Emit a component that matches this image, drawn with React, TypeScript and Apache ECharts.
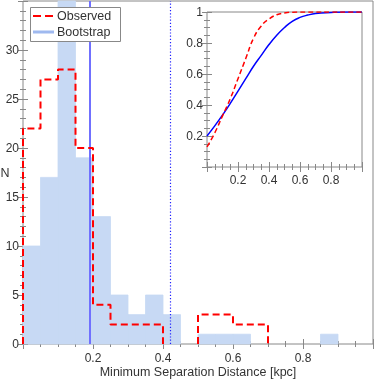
import React, { useEffect, useRef } from "react";
import * as echarts from "echarts";

// ---- Data ----
const binEdges = [0, 0.05, 0.1, 0.15, 0.2, 0.25, 0.3, 0.35, 0.4, 0.45, 0.5, 0.55, 0.6, 0.65, 0.7, 0.75, 0.8, 0.85, 0.9, 0.95, 1.0];
const observedCounts = [22, 27, 28, 20, 4, 2, 2, 2, 0, 0, 3, 3, 2, 2, 0, 0, 0, 0, 0, 0];
const bootstrapCounts = [10, 17, 38, 19, 13, 5, 3, 5, 3, 0, 1, 1, 1, 0, 0, 0, 0, 1, 0, 0];
const bootstrapMarker = 0.194;
const dottedMarker = 0.424;

const cdfX = [0, 0.05, 0.1, 0.15, 0.2, 0.25, 0.3, 0.35, 0.4, 0.45, 0.5, 0.55, 0.6, 0.65, 0.7, 0.8, 0.9, 1.0];
const cdfBootstrap = [0.2, 0.265, 0.335, 0.41, 0.49, 0.57, 0.65, 0.72, 0.79, 0.85, 0.9, 0.94, 0.965, 0.98, 0.99, 0.997, 1.0, 1.0];
const cdfObserved = [0.13, 0.22, 0.33, 0.44, 0.57, 0.7, 0.83, 0.91, 0.955, 0.982, 0.994, 0.999, 1.0, 1.0, 1.0, 1.0, 1.0, 1.0];

const mainXTicks = { min: 0, max: 1, interval: 0.2 };
const mainYTicks = { min: 0, max: 35, interval: 5 };
const insetTicks = { min: 0, max: 1, interval: 0.2 };

const xAxisTitle = "Minimum Separation Distance [kpc]";
const yAxisTitle = "N";
const legendLabels = ["Observed", "Bootstrap"];

const FONT = "Liberation Sans";
const TEXT = "#333";
const FRAME = "#888";
const RED = "#ff0000";
const BAR = "#c7d9f4";

function stepRuns(): number[][][] {
  const runs: number[][][] = [];
  let cur: number[][] | null = null;
  observedCounts.forEach((h, i) => {
    if (h > 0) {
      if (!cur) {
        cur = [[binEdges[i], 0]];
      }
      cur.push([binEdges[i], h], [binEdges[i + 1], h]);
    } else if (cur) {
      cur.push([binEdges[i], 0]);
      runs.push(cur);
      cur = null;
    }
  });
  if (cur) {
    (cur as number[][]).push([binEdges[binEdges.length - 1], 0]);
    runs.push(cur);
  }
  return runs;
}

export default function App() {
  const ref = useRef<HTMLDivElement>(null);
  useEffect(() => {
    if (!ref.current) return;
    const chart = echarts.init(ref.current, undefined, { renderer: "svg" });

    const tickCommon = (labels: boolean, extra: any = {}) => ({
      axisLine: { show: false },
      axisTick: { show: true, inside: true, length: 5, lineStyle: { color: FRAME } },
      minorTick: { show: true, splitNumber: 4, length: 3, lineStyle: { color: FRAME } },
      splitLine: { show: false },
      axisLabel: { show: labels, color: TEXT, fontFamily: FONT, fontSize: 12, ...extra },
    });

    const runs = stepRuns();
    const observedSeries = runs.map((r) => ({
      type: "line",
      xAxisIndex: 0,
      yAxisIndex: 0,
      data: r,
      showSymbol: false,
      symbol: "none",
      lineStyle: { color: RED, width: 2, type: [7, 4] },
      z: 5,
    }));

    const textStyle = (text: string) => ({
      text,
      fill: TEXT,
      font: `12.5px "${FONT}"`,
      textVerticalAlign: "middle",
      verticalAlign: "middle",
    });

    const option: any = {
      animation: false,
      textStyle: { fontFamily: FONT },
      grid: [
        { left: 23, right: 1, top: 1, bottom: 36, show: true, borderColor: FRAME, borderWidth: 1, backgroundColor: "transparent", containLabel: false, outerBoundsMode: "none" },
        { left: 207, right: 12, top: 12, bottom: 213, show: true, borderColor: FRAME, borderWidth: 1, backgroundColor: "#fff", containLabel: false, outerBoundsMode: "none" },
      ],
      xAxis: [
        {
          type: "value", gridIndex: 0, position: "bottom", ...mainXTicks,
          ...tickCommon(true, { showMinLabel: false, showMaxLabel: false, margin: 8 }),
        },
        { type: "value", gridIndex: 0, position: "top", ...mainXTicks, ...tickCommon(false) },
        {
          type: "value", gridIndex: 1, position: "bottom", ...insetTicks,
          ...tickCommon(true, { showMinLabel: false, showMaxLabel: false, margin: 7 }),
        },
        { type: "value", gridIndex: 1, position: "top", ...insetTicks, ...tickCommon(false) },
      ],
      yAxis: [
        {
          type: "value", gridIndex: 0, position: "left", ...mainYTicks,
          ...tickCommon(true, { showMaxLabel: false, margin: 4 }),
          minorTick: { show: true, splitNumber: 5, length: 3, lineStyle: { color: FRAME } },
        },
        {
          type: "value", gridIndex: 0, position: "right", ...mainYTicks, ...tickCommon(false),
          minorTick: { show: true, splitNumber: 5, length: 3, lineStyle: { color: FRAME } },
        },
        {
          type: "value", gridIndex: 1, position: "left", ...insetTicks,
          ...tickCommon(true, { showMinLabel: false, margin: 4 }),
        },
        { type: "value", gridIndex: 1, position: "right", ...insetTicks, ...tickCommon(false) },
      ],
      series: [
        {
          type: "custom",
          xAxisIndex: 0,
          yAxisIndex: 0,
          z: 1,
          encode: { x: [0, 1], y: 2 },
          data: bootstrapCounts
            .map((v, i) => [binEdges[i], binEdges[i + 1], v])
            .filter((d) => d[2] > 0),
          renderItem: (params: any, api: any) => {
            const p0 = api.coord([api.value(0), 0]);
            const p1 = api.coord([api.value(1), api.value(2)]);
            const rect = echarts.graphic.clipRectByRect(
              { x: p0[0], y: p1[1], width: p1[0] - p0[0], height: p0[1] - p1[1] },
              { x: params.coordSys.x, y: params.coordSys.y, width: params.coordSys.width, height: params.coordSys.height }
            );
            return rect ? { type: "rect", shape: rect, style: { fill: BAR, stroke: BAR, lineWidth: 0.8 } } : null;
          },
        },
        {
          type: "line",
          xAxisIndex: 0,
          yAxisIndex: 0,
          data: [],
          z: 3,
          markLine: {
            silent: true,
            symbol: "none",
            label: { show: false },
            data: [
              { xAxis: bootstrapMarker, lineStyle: { color: "#7070ff", width: 2, type: "solid" } },
              { xAxis: dottedMarker, lineStyle: { color: "#2020ff", width: 1.2, type: [1.2, 2] } },
            ],
          },
        },
        ...observedSeries,
        {
          type: "line",
          xAxisIndex: 2,
          yAxisIndex: 2,
          data: cdfX.map((x, i) => [x, cdfBootstrap[i]]),
          smooth: true,
          showSymbol: false,
          symbol: "none",
          lineStyle: { color: "#0000ff", width: 1.5 },
          z: 6,
        },
        {
          type: "line",
          xAxisIndex: 2,
          yAxisIndex: 2,
          data: cdfX.map((x, i) => [x, cdfObserved[i]]),
          smooth: true,
          showSymbol: false,
          symbol: "none",
          lineStyle: { color: RED, width: 1.5, type: [5, 3] },
          z: 7,
        },
      ],
      graphic: [
        { type: "text", x: 198, y: 372, style: { ...textStyle(xAxisTitle), textAlign: "center", align: "center" }, z: 50 },
        { type: "text", x: 5, y: 173, style: { ...textStyle(yAxisTitle), textAlign: "center", align: "center" }, z: 50 },
        {
          type: "group",
          z: 100,
          children: [
            { type: "rect", shape: { x: 30.5, y: 7.5, width: 90, height: 34 }, style: { fill: "#fff", stroke: FRAME, lineWidth: 1 }, z: 100 },
            { type: "line", shape: { x1: 33, y1: 16, x2: 53, y2: 16 }, style: { stroke: RED, lineWidth: 2, lineDash: [8, 4] }, z: 101 },
            { type: "line", shape: { x1: 33, y1: 32, x2: 54, y2: 32 }, style: { stroke: "#9fb9ef", lineWidth: 3 }, z: 101 },
            { type: "text", x: 57, y: 16, style: textStyle(legendLabels[0]), z: 101 },
            { type: "text", x: 57, y: 32, style: textStyle(legendLabels[1]), z: 101 },
          ],
        },
      ],
    };
    chart.setOption(option);
    return () => chart.dispose();
  }, []);
  return <div ref={ref} style={{ position: "fixed", left: 0, top: 0, width: 374, height: 380 }} />;
}
